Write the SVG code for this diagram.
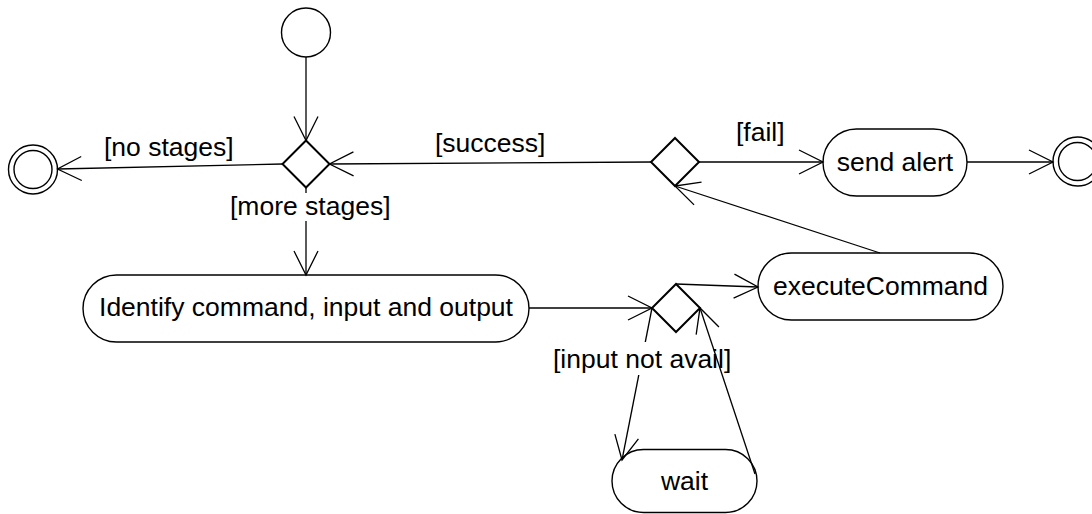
<svg xmlns="http://www.w3.org/2000/svg" width="1092" height="514" viewBox="0 0 1092 514">
  <style>
    .bg { fill: #ffffff; }
    .action { fill: #ffffff; stroke: #000000; stroke-width: 1.4; }
    .decision { fill: #ffffff; stroke: #000000; stroke-width: 2; }
    .state { fill: #ffffff; stroke: #000000; stroke-width: 1.4; }
    .edge { fill: none; stroke: #000000; stroke-width: 1.3; marker-end: url(#open-arrow); }
    .label { font-family: "Liberation Sans", Arial, sans-serif; font-size: 26.5px; fill: #000000; }
    .mid { text-anchor: middle; }
    .mask { fill: #ffffff; stroke: none; }
  </style>
  <defs>
    <marker id="open-arrow" viewBox="-26 -14 28 28" refX="0" refY="0" markerWidth="28" markerHeight="28" markerUnits="userSpaceOnUse" orient="auto" overflow="visible">
      <path d="M-24,-12 L0,0 L-24,12" fill="none" stroke="#000000" stroke-width="1.3"/>
    </marker>
  </defs>

  <rect class="bg" x="0" y="0" width="1092" height="514"/>

  <!-- nodes -->
  <g id="start">
    <circle class="state" cx="306" cy="32.5" r="24.5"/>
  </g>
  <g id="end-left">
    <circle class="state" cx="33" cy="169.5" r="24.5"/>
    <circle class="state" cx="33" cy="169.5" r="19"/>
  </g>
  <g id="end-right">
    <circle class="state" cx="1077.5" cy="161.5" r="24.5"/>
    <circle class="state" cx="1077.5" cy="161.5" r="19"/>
  </g>
  <g id="stage-check">
    <polygon class="decision" points="306,140.5 329.5,164 306,187.5 282.5,164"/>
  </g>
  <g id="result-check">
    <polygon class="decision" points="675,138 699,162 675,186 651,162"/>
  </g>
  <g id="input-check">
    <polygon class="decision" points="676,284 700,308 676,332 652,308"/>
  </g>
  <g id="identify">
    <rect class="action" x="83" y="275" width="446" height="67" rx="33.5" ry="33.5"/>
    <text class="label mid" x="306" y="316">Identify command, input and output</text>
  </g>
  <g id="send-alert">
    <rect class="action" x="823" y="129" width="144" height="67" rx="33.5" ry="33.5"/>
    <text class="label mid" x="895" y="170.5">send alert</text>
  </g>
  <g id="execute-command">
    <rect class="action" x="758" y="253" width="245" height="67" rx="33.5" ry="33.5"/>
    <text class="label mid" x="880.5" y="294.5">executeCommand</text>
  </g>
  <g id="wait">
    <rect class="action" x="612" y="449.5" width="145" height="63" rx="31.5" ry="31.5"/>
    <text class="label mid" x="684.5" y="490">wait</text>
  </g>

  <!-- connectors and their guard labels -->
  <g id="connectors">
    <line class="edge" x1="306" y1="57" x2="306" y2="140.5"/>
    <line class="edge" x1="282.5" y1="164" x2="57.5" y2="169"/>
    <text class="label" x="104" y="156">[no stages]</text>
    <line class="edge" x1="651" y1="162" x2="329.5" y2="164"/>
    <text class="label" x="435" y="151.5">[success]</text>
    <line class="edge" x1="306" y1="187.5" x2="306" y2="275"/>
    <rect class="mask" x="229" y="193" width="163" height="28"/>
    <text class="label" x="230" y="214.5">[more stages]</text>
    <line class="edge" x1="529" y1="308" x2="652" y2="308"/>
    <line class="edge" x1="676" y1="284" x2="758" y2="287"/>
    <line class="edge" x1="652" y1="308" x2="622" y2="460"/>
    <rect class="mask" x="552" y="342" width="180" height="33"/>
    <text class="label" x="553" y="368">[input not avail]</text>
    <line class="edge" x1="755" y1="474" x2="700" y2="308"/>
    <line class="edge" x1="880" y1="253" x2="675" y2="186"/>
    <line class="edge" x1="699" y1="162" x2="823" y2="162"/>
    <text class="label" x="736" y="141">[fail]</text>
    <line class="edge" x1="967" y1="162" x2="1053" y2="162"/>
  </g>
</svg>
